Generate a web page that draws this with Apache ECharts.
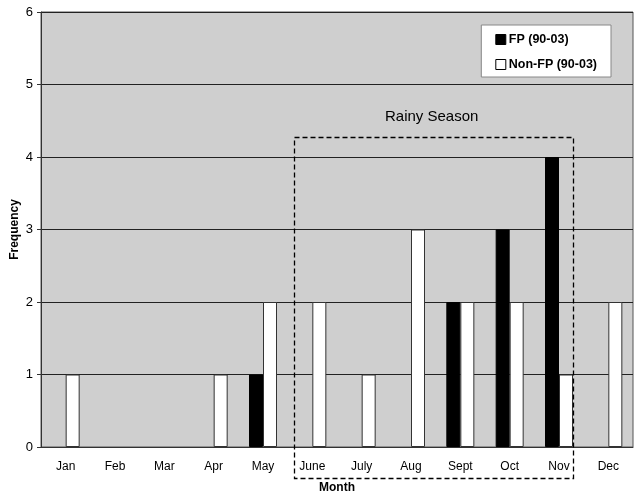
<!DOCTYPE html>
<html>
<head>
<meta charset="utf-8">
<script src="https://cdn.jsdelivr.net/npm/echarts@6/dist/echarts.min.js"></script>
<style>
  html, body { margin: 0; padding: 0; background: #fff; }
  #chart { width: 642px; height: 499px; }
</style>
</head>
<body>
<div id="chart"></div>
<script>
const months = ['Jan', 'Feb', 'Mar', 'Apr', 'May', 'June', 'July', 'Aug', 'Sept', 'Oct', 'Nov', 'Dec'];
const fpValues = [0, 0, 0, 0, 1, 0, 0, 0, 2, 3, 4, 0];
const nonFpValues = [1, 0, 0, 1, 2, 2, 1, 3, 2, 2, 1, 2];
const yTicks = [0, 1, 2, 3, 4, 5, 6];

const font = 'Liberation Sans, Arial, sans-serif';
// empty months draw no bar at all
const hideZero = arr => arr.map(v => (v === 0 ? '-' : v));

const chart = echarts.init(document.getElementById('chart'));

chart.setOption({
  animation: false,
  textStyle: { fontFamily: font },
  grid: {
    left: 41, right: 9, top: 12, bottom: 52,
    outerBoundsMode: 'none', containLabel: false,
    show: true, backgroundColor: '#cfcfcf', borderColor: '#555', borderWidth: 1
  },
  legend: {
    orient: 'vertical',
    right: 31, top: 25,
    padding: [8, 14, 6, 14],
    itemGap: 12,
    backgroundColor: '#fff',
    borderColor: '#888', borderWidth: 1,
    icon: 'rect', itemWidth: 10, itemHeight: 10,
    itemStyle: { borderColor: '#000', borderWidth: 1 },
    textStyle: { fontFamily: font, fontWeight: 'bold', fontSize: 12.5, color: '#000', padding: [0, 0, 0, -2] },
    data: ['FP (90-03)', 'Non-FP (90-03)']
  },
  xAxis: {
    type: 'category',
    data: months,
    name: 'Month', nameLocation: 'middle', nameGap: 35,
    nameTextStyle: { fontWeight: 'bold', fontSize: 12, color: '#000', fontFamily: font },
    axisLine: { lineStyle: { color: '#333' } },
    axisTick: { length: 5, lineStyle: { color: '#555' } },
    axisLabel: { color: '#000', fontSize: 12, margin: 14 }
  },
  yAxis: {
    type: 'value', min: yTicks[0], max: yTicks[yTicks.length - 1], interval: 1,
    name: 'Frequency', nameLocation: 'middle', nameGap: 20, nameMoveOverlap: false,
    nameTextStyle: { fontWeight: 'bold', fontSize: 12, color: '#000', fontFamily: font },
    axisLine: { show: true, lineStyle: { color: '#333' } },
    axisTick: { show: true, length: 4, lineStyle: { color: '#333' } },
    axisLabel: { color: '#000', fontSize: 13, margin: 8 },
    splitLine: { lineStyle: { color: '#222', width: 1 } }
  },
  series: [
    {
      name: 'FP (90-03)', type: 'bar', data: hideZero(fpValues),
      barWidth: 14, barGap: '0%',
      itemStyle: { color: '#000', borderColor: '#000', borderWidth: 1 }
    },
    {
      name: 'Non-FP (90-03)', type: 'bar', data: hideZero(nonFpValues),
      barWidth: 14,
      itemStyle: { color: '#fff', borderColor: '#333', borderWidth: 1 }
    }
  ],
  graphic: [
    {
      type: 'rect', z: 100,
      shape: { x: 294.5, y: 137.5, width: 279, height: 341 },
      style: { fill: 'none', stroke: '#000', lineWidth: 1.3, lineDash: [5, 3] }
    },
    {
      type: 'text', z: 100, left: 385, top: 109,
      style: { text: 'Rainy Season', fill: '#000', font: '15px ' + font }
    }
  ]
});
</script>
</body>
</html>
